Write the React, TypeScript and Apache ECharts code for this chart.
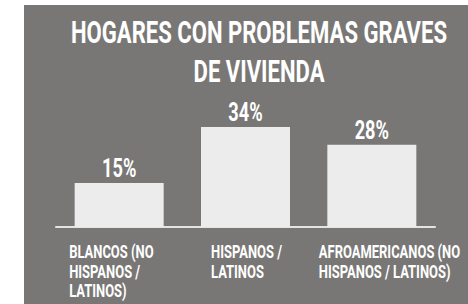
import React, { useEffect, useRef } from "react";
import * as echarts from "echarts";

const titleLines = ["HOGARES CON PROBLEMAS GRAVES", "DE VIVIENDA"];
const categories = [
  "BLANCOS (NO\nHISPANOS /\nLATINOS)",
  "HISPANOS /\nLATINOS",
  "AFROAMERICANOS (NO\nHISPANOS / LATINOS)",
];
const values = [15, 34, 28];

// style: horizontal shift of each category label's left edge from the category centre
const labelShift = [-50, -34.5, -53];

const FONT = 'Roboto, "DejaVu Sans", sans-serif';

export default function App() {
  const ref = useRef<HTMLDivElement>(null);
  useEffect(() => {
    if (!ref.current) return;
    const chart = echarts.init(ref.current, null, { renderer: "svg" });
    chart.setOption({
      animation: false,
      backgroundColor: "#ffffff",
      graphic: [
        {
          type: "rect",
          z: -10,
          shape: { x: 24, y: 5, width: 444, height: 299 },
          style: { fill: "#797775" },
        },
        {
          type: "text",
          x: 259,
          y: 13,
          scaleX: 0.69,
          z: 10,
          style: {
            text: titleLines.join("\n"),
            align: "center",
            verticalAlign: "top",
            fill: "#ffffff",
            fontFamily: FONT,
            fontWeight: "bold",
            fontSize: 32,
            lineHeight: 38.5,
          },
        },
      ],
      grid: { left: 56, right: 33, top: 109.4, bottom: 77, outerBoundsMode: "none" },
      xAxis: {
        type: "category",
        data: categories,
        axisTick: { show: false },
        axisLine: { lineStyle: { color: "#e4e4e4", width: 2 } },
        axisLabel: { show: false },
      },
      yAxis: { type: "value", min: 0, max: 40, show: false, splitLine: { show: false } },
      series: [
        {
          type: "bar",
          data: values,
          barWidth: 89,
          itemStyle: { color: "#ececec" },
        },
        {
          type: "custom",
          data: values.map((v, i) => [i, v]),
          z: 10,
          renderItem: (params: any, api: any) => {
            const i = api.value(0);
            const v = api.value(1);
            const top = api.coord([i, v]);
            const base = api.coord([i, 0]);
            return {
              type: "group",
              children: [
                {
                  type: "text",
                  x: top[0],
                  y: top[1] - 2,
                  scaleX: 0.7,
                  style: {
                    text: `${v}%`,
                    align: "center",
                    verticalAlign: "bottom",
                    fill: "#ffffff",
                    fontFamily: FONT,
                    fontWeight: "bold",
                    fontSize: 26,
                  },
                },
                {
                  type: "text",
                  x: base[0] + labelShift[i],
                  y: base[1] + 15,
                  scaleX: 0.72,
                  style: {
                    text: categories[i],
                    align: "left",
                    verticalAlign: "top",
                    fill: "#ffffff",
                    fontFamily: FONT,
                    fontWeight: "bold",
                    fontSize: 18,
                    lineHeight: 19.5,
                  },
                },
              ],
            };
          },
        },
      ],
    });
    return () => chart.dispose();
  }, []);
  return (
    <div
      ref={ref}
      style={{ position: "absolute", left: 0, top: 0, width: 468, height: 304 }}
    />
  );
}
